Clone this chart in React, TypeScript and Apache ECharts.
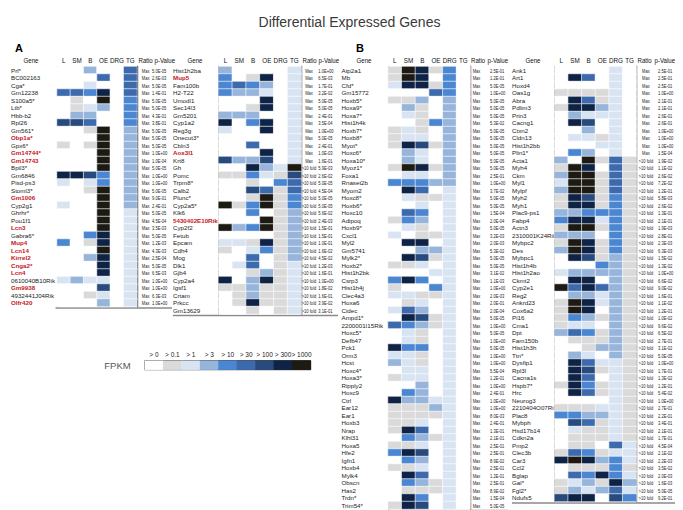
import React, { useEffect, useRef } from "react";
import * as echarts from "echarts";

const FONT = "'Liberation Sans', Arial, sans-serif";

const COLS = ["L", "SM", "B", "OE", "DRG", "TG"];
const PALETTE = ["#ffffff", "#dadada", "#d9e4f3", "#97b4db", "#4b86d2", "#3c6aad", "#294a7c", "#0f2346", "#1d1a13"];
const LEGEND_LABELS = ["> 0", "> 0.1", "> 1", "> 3", "> 10", "> 30", "> 100", "> 300", "> 1000"];

// ---------- Panel A, left table ----------
const A1_GENES = ["Prl*", "BC002163", "Cga*", "Gm12238", "S100a5*", "Ltb*", "Hbb-b2", "Rpl26", "Gm561*", "Obp1a*", "Gpx6*", "Gm14744*", "Gm14743", "Bpil3*", "Gm6846", "Pisd-ps3", "Stoml3*", "Gm1006", "Cyp2g1", "Ghrhr*", "Pou1f1", "Lcn3", "Gabra6*", "Mup4", "Lcn14", "Kirrel2", "Cnga2*", "Lcn4", "0610040B10Rik", "Gm9938", "4932441J04Rik", "Olfr420"];
const A1_LEVELS = ["003005", "000505", "002005", "554705", "010804", "012304", "033004", "665004", "001803", "000803", "101803", "000803", "000803", "000803", "776403", "202403", "001803", "000803", "200803", "000802", "000802", "000802", "004702", "401702", "000802", "003702", "000702", "000702", "232202", "000602", "001202", "000302"];
const A1_RATIO = ["Max", "Max", "Max", "Max", "Max", "Max", "Max", "Max", "Max", "Max", "Max", "Max", "Max", "Max", "Max", "Max", "Max", "Max", "Max", "Max", "Max", "Max", "Max", "Max", "Max", "Max", "Max", "Max", "Max", "Max", "Max", "Max"];
const A1_PVAL = ["5.0E-05", "2.6E-03", "5.0E-05", "1.4E-01", "5.0E-05", "5.0E-05", "4.3E-01", "3.8E-01", "5.0E-05", "5.0E-05", "5.0E-05", "1.0E+00", "1.0E-04", "5.0E-05", "1.0E+00", "1.0E+00", "5.0E-05", "9.0E-01", "2.4E-01", "5.0E-05", "4.5E-04", "3.5E-03", "5.0E-05", "1.2E-03", "4.3E-03", "2.5E-04", "5.0E-05", "6.5E-03", "1.0E+00", "1.0E+00", "6.3E-03", "1.0E+00"];
const A1_RED = ["Obp1a*", "Gm14744*", "Gm14743", "Gm1006", "Lcn3", "Mup4", "Lcn14", "Kirrel2", "Cnga2*", "Lcn4", "Gm9938", "Olfr420"];

// ---------- Panel A, right table ----------
const A2_GENES = ["Hist1h2ba", "Mup5", "Fam100b", "H2-T22", "Umodl1", "Sec14l3", "Gm5201", "Cyp1a2", "Reg3g", "Onecut3*", "Cbln3", "Aox3l1", "Krt8", "Gh", "Pomc", "Trpm8*", "Calb2", "Plunc*", "Cyp2a5*", "Klk6", "5430402E10Rik", "Cyp2f2", "Fetub", "Epcam", "Cdh4", "Mog", "Dlk1", "Gjb4", "Cyp2a4", "Igsf1", "Crtam", "Prkcc", "Gm13629"];
const A2_LEVELS = ["300002", "401702", "454302", "433202", "000702", "001702", "333002", "704702", "200702", "000002", "005002", "000702", "633602", "007328", "114216", "001045", "006515", "001814", "814814", "004013", "000813", "834813", "000013", "221713", "102413", "005013", "025012", "001312", "703712", "113112", "013112", "017112", "001012"];
const A2_RATIO = ["Max", "Max", "Max", "Max", "Max", "Max", "Max", "Max", "Max", "Max", "Max", "Max", "Max", ">10 fold", ">10 fold", ">10 fold", ">10 fold", ">10 fold", ">10 fold", ">10 fold", ">10 fold", ">10 fold", ">10 fold", ">10 fold", ">10 fold", ">10 fold", ">10 fold", ">10 fold", ">10 fold", ">10 fold", ">10 fold", ">10 fold", ">10 fold"];
const A2_PVAL = ["1.0E+00", "6.5E-03", "1.7E-01", "3.2E-02", "5.0E-05", "5.0E-05", "2.4E-01", "3.5E-04", "1.0E+00", "5.0E-05", "2.4E-01", "1.0E-03", "1.6E-01", "5.9E-03", "2.6E-02", "5.0E-05", "4.5E-04", "5.0E-05", "5.0E-05", "5.6E-02", "2.4E-03", "1.5E-01", "1.5E-01", "1.0E-01", "1.6E-02", "4.5E-02", "1.2E-03", "1.6E-01", "1.0E+00", "1.8E-02", "1.6E-01", "3.9E-02", "3.1E-01"];
const A2_RED = ["Mup5", "Aox3l1", "5430402E10Rik"];

// ---------- Panel B, left table ----------
const B1_GENES = ["Atp2a1", "Mb", "Cfd*", "Gm15772", "Hoxb5*", "Hoxa9*", "Hoxa7*", "Hist1h4k", "Hoxb7*", "Hoxb8*", "Myot*", "Hoxc6*", "Hoxa10*", "Myoz1*", "Foxa1", "Rnaset2b", "Myom2", "Hoxc8*", "Hoxb6*", "Hoxc10", "Adipoq", "Hoxb9*", "Cxcl1", "Myl2", "Gm5741", "Mylk2*", "Hoxb2*", "Hist1h2bk", "Csrp3", "Hist1h4j", "Clec4a3", "Hoxa6", "Cidec", "Ampd1*", "2200001I15Rik", "Hoxc5*", "Defb47", "Pck1", "Orm3", "Hcst", "Hoxc4*", "Hoxa3*", "Ripply2", "Hoxc9", "Ctrl", "Ear12", "Ear1", "Hoxb3", "Nrap", "Klhl31", "Hoxa5", "Hfe2", "Igfn1", "Hoxb4", "Mylk4", "Obscn", "Has2", "Trdn*", "Trim54*"];
const B1_LEVELS = ["187140", "187040", "277140", "000540", "113030", "031030", "021030", "001430", "121030", "122030", "176130", "032030", "032030", "187130", "022030", "444330", "075020", "021120", "002020", "054020", "143020", "021020", "201120", "077020", "003320", "076120", "112020", "000220", "474020", "100420", "221120", "012020", "253020", "076120", "543120", "021020", "021020", "744020", "221020", "321020", "022020", "122020", "003020", "043020", "733220", "111320", "111120", "112020", "175020", "043120", "112020", "476020", "043020", "112020", "075020", "043120", "011120", "074020", "176020"];
const B1_RATIO = ["Max", "Max", "Max", "Max", "Max", "Max", "Max", "Max", "Max", "Max", "Max", "Max", "Max", "Max", "Max", "Max", "Max", "Max", "Max", "Max", "Max", "Max", "Max", "Max", "Max", "Max", "Max", "Max", "Max", "Max", "Max", "Max", "Max", "Max", "Max", "Max", "Max", "Max", "Max", "Max", "Max", "Max", "Max", "Max", "Max", "Max", "Max", "Max", "Max", "Max", "Max", "Max", "Max", "Max", "Max", "Max", "Max", "Max", "Max"];
const B1_PVAL = ["2.5E-01", "1.2E-01", "5.0E-05", "1.0E+00", "5.0E-05", "5.0E-05", "5.0E-05", "5.3E-02", "5.0E-05", "5.0E-05", "5.0E-05", "5.0E-05", "5.0E-05", "5.0E-05", "2.5E-01", "1.0E+00", "3.7E-02", "5.0E-05", "5.0E-05", "1.5E-04", "2.0E-04", "5.0E-05", "3.2E-03", "2.0E-03", "5.3E-02", "5.0E-05", "5.0E-05", "3.1E-02", "1.1E-03", "1.0E+00", "2.0E-03", "2.0E-01", "2.0E-04", "5.0E-05", "1.0E+00", "5.0E-05", "1.0E+00", "5.0E-05", "1.0E+00", "1.0E+00", "5.5E-04", "1.2E-01", "1.0E+00", "2.4E-01", "1.0E+00", "1.0E+00", "8.0E-03", "2.4E-01", "1.3E-01", "2.1E-01", "2.5E-01", "2.5E-01", "8.9E-02", "2.5E-01", "1.2E-01", "2.5E-01", "8.9E-02", "1.5E-04", "5.0E-05"];
const B1_RED: string[] = [];

// ---------- Panel B, right table ----------
const B2_GENES = ["Ank1", "Art1", "Hoxd4", "Oas1g", "Abra", "Pdlim3", "Prin3", "Cacng1", "Ctxn2", "Cldn13", "Hist1h2bb", "Plin1*", "Acta1", "Myh4", "Ckm", "Myl1", "Mylpf", "Myh2", "Myh1", "Plac9-ps1", "Fabp4", "Actn3", "2310001K24Rik", "Mybpc2", "Des", "Mybpc1", "Hist1h4b", "Hist1h2ao", "Ckmt2", "Cyp2e1", "Reg2", "Ankrd23", "Cox6a2", "Pi16", "Cma1", "Dpt", "Fam150b", "Hist1h3h", "Ttn*", "Dysfip1", "Rpl3l", "Cacna1s", "Hspb7*", "Hrc", "Neurog3", "2210404O07Rik", "Plac8", "Mybph", "Hsd17b14", "Cdkn2a", "Pmp2", "Clec3b", "Car3", "Ccl2", "Bglap", "Gal*", "Fgl2*", "Ndufs5"];
const B2_LEVELS = ["000020", "075020", "000020", "111120", "075120", "177320", "032220", "076020", "003020", "022120", "000220", "043020", "308151", "187051", "388151", "288151", "388151", "176141", "177141", "334441", "477241", "188141", "333041", "187141", "387141", "076131", "000431", "233331", "077031", "857531", "033231", "187231", "187031", "143131", "122031", "354131", "011131", "001331", "032031", "075221", "076121", "075021", "174121", "075121", "000021", "111221", "443321", "065121", "021121", "011121", "011052", "154122", "787342", "011141", "054742", "123173", "132352", "677064"];
const B2_RATIO = ["Max", "Max", "Max", "Max", "Max", "Max", "Max", "Max", "Max", "Max", "Max", "Max", ">10 fold", ">10 fold", ">10 fold", ">10 fold", ">10 fold", ">10 fold", ">10 fold", ">10 fold", ">10 fold", ">10 fold", ">10 fold", ">10 fold", ">10 fold", ">10 fold", ">10 fold", ">10 fold", ">10 fold", ">10 fold", ">10 fold", ">10 fold", ">10 fold", ">10 fold", ">10 fold", ">10 fold", ">10 fold", ">10 fold", ">10 fold", ">10 fold", ">10 fold", ">10 fold", ">10 fold", ">10 fold", ">10 fold", ">10 fold", ">10 fold", ">10 fold", ">10 fold", ">10 fold", ">10 fold", ">10 fold", ">10 fold", ">10 fold", ">10 fold", ">10 fold", ">10 fold", ">10 fold"];
const B2_PVAL = ["2.5E-01", "2.5E-01", "2.5E-01", "1.0E+00", "2.1E-01", "2.1E-01", "2.6E-01", "2.6E-01", "1.0E+00", "1.0E+00", "1.0E+00", "1.5E-04", "1.9E-02", "1.1E-02", "2.6E-02", "7.2E-02", "1.2E-01", "5.8E-03", "2.6E-02", "1.3E-01", "2.1E-01", "1.9E-03", "2.8E-01", "2.3E-03", "6.3E-03", "1.5E-02", "1.3E-02", "1.0E+00", "6.6E-02", "9.0E-02", "1.6E-01", "1.1E-02", "1.2E-01", "1.0E-02", "9.6E-02", "6.5E-02", "2.7E-01", "3.1E-02", "5.0E-05", "1.0E+00", "1.7E-01", "1.3E-02", "1.2E-01", "5.4E-02", "1.0E+00", "2.7E-01", "2.2E-01", "3.4E-01", "2.1E-01", "1.7E-01", "4.5E-04", "2.1E-02", "2.2E-03", "3.5E-02", "2.0E-03", "1.6E-03", "5.0E-05", "9.2E-01"];
const B2_RED: string[] = [];

// ---------- layout (positions only) ----------
const ROW_H = 7.5;
const TOP = 58.5;
const HEAD_Y = 52.5;
const HEAD_FONT = 6.8;
const COL_FONT = 6.3;
const SMALL_FONT = 6;
const SMALL_SX = 0.68;

const TABLES = [
  { genes: A1_GENES, levels: A1_LEVELS, ratio: A1_RATIO, pval: A1_PVAL, red: A1_RED, left: 48, cellW: 13.5, geneX: 2, ratioC: 8.5, pOff: 15, lineFrom: 47.5, lineTo: 164, geneHead: 23, ratioHead: 130.5, pHead: 146.5 },
  { genes: A2_GENES, levels: A2_LEVELS, ratio: A2_RATIO, pval: A2_PVAL, red: A2_RED, left: 210.5, cellW: 13.8, geneX: 165, ratioC: 7.7, pOff: 17, lineFrom: 165, lineTo: 330, geneHead: 187, ratioHead: 294.5, pHead: 310.5 },
  { genes: B1_GENES, levels: B1_LEVELS, ratio: B1_RATIO, pval: B1_PVAL, red: B1_RED, left: 380, cellW: 13.7, geneX: 333.5, ratioC: 6.3, pOff: 19.8, lineFrom: 380, lineTo: 500, geneHead: 356, ratioHead: 463, pHead: 479.5 },
  { genes: B2_GENES, levels: B2_LEVELS, ratio: B2_RATIO, pval: B2_PVAL, red: B2_RED, left: 546.5, cellW: 13.65, geneX: 504, ratioC: 9.5, pOff: 21.6, lineFrom: 504, lineTo: 668, geneHead: 525, ratioHead: 629.5, pHead: 646.5 },
];

function headText(text: string, x: number, align: string) {
  return { type: "text", x, y: HEAD_Y, scaleX: 0.9, style: { text, align, verticalAlign: "middle", font: `${HEAD_FONT}px ${FONT}`, fill: "#111" } };
}

function buildOption() {
  const grid: any[] = [];
  const xAxis: any[] = [];
  const yAxis: any[] = [];
  const series: any[] = [];
  const graphic: any[] = [];
  const heatIdx: number[] = [];

  TABLES.forEach((t, i) => {
    const n = t.genes.length;
    const height = n * ROW_H;
    grid.push({ left: t.left, top: TOP, width: t.cellW * 6, height, containLabel: false });
    xAxis.push({
      gridIndex: i, type: "category", data: COLS, position: "top",
      axisLine: { show: false }, axisTick: { show: false }, splitLine: { show: false },
      axisLabel: { interval: 0, fontSize: COL_FONT, color: "#111", margin: 3, fontFamily: FONT },
    });
    yAxis.push({
      gridIndex: i, type: "category", data: t.genes, inverse: true,
      axisLine: { show: true, lineStyle: { color: "#000", width: 1 } },
      axisTick: { show: false }, splitLine: { show: false },
      axisLabel: {
        interval: 0, align: "left", margin: t.left - t.geneX, fontSize: 6.2, fontFamily: FONT,
        formatter: (v: string) => (t.red.includes(v) ? `{red|${v}}` : `{n|${v}}`),
        rich: {
          n: { fontSize: 6.2, color: "#222", fontFamily: FONT },
          red: { fontSize: 6.2, color: "#c4161c", fontWeight: "bold", fontFamily: FONT },
        },
      },
    });
    yAxis.push({
      gridIndex: i, type: "category", data: t.genes, inverse: true, position: "right",
      axisLine: { show: true, lineStyle: { color: "#000", width: 1.3 } },
      axisTick: { show: false }, splitLine: { show: false }, axisLabel: { show: false },
    });
    const data: any[] = [];
    t.levels.forEach((row, r) => {
      row.split("").forEach((ch, c) => data.push([c, r, Number(ch)]));
    });
    heatIdx.push(series.length);
    series.push({
      type: "heatmap", xAxisIndex: i, yAxisIndex: i * 2, data,
      itemStyle: { borderColor: "#ffffff", borderWidth: 0.6 },
      emphasis: { disabled: true },
    });
    // ratio and p-value columns, placed on each row through the table's own axes
    series.push({
      type: "custom", xAxisIndex: i, yAxisIndex: i * 2, silent: true,
      data: t.genes.map((_, r) => [5, r]),
      encode: { x: 0, y: 1 },
      renderItem: (params: any, api: any) => {
        const r = params.dataIndex;
        const pt = api.coord([5, r]);
        const xr = pt[0] + t.cellW / 2;
        return {
          type: "group",
          children: [
            { type: "text", x: xr + t.ratioC, y: pt[1], scaleX: SMALL_SX, style: { text: t.ratio[r], align: "center", verticalAlign: "middle", font: `${SMALL_FONT}px ${FONT}`, fill: "#222" } },
            { type: "text", x: xr + t.pOff, y: pt[1], scaleX: SMALL_SX, style: { text: t.pval[r], align: "left", verticalAlign: "middle", font: `${SMALL_FONT}px ${FONT}`, fill: "#222" } },
          ],
        };
      },
    });
    const bottom = TOP + height + 1.5;
    graphic.push({ type: "line", shape: { x1: t.lineFrom, y1: bottom, x2: t.lineTo, y2: bottom }, style: { stroke: "#8a8a8a", lineWidth: 1.6 }, silent: true });
    graphic.push(headText("Gene", t.geneHead, "center"));
    graphic.push(headText("Ratio", t.ratioHead, "left"));
    graphic.push(headText("p-Value", t.pHead, "left"));
  });

  // legend as a one-row heatmap
  const li = TABLES.length;
  grid.push({ left: 136.7, top: 352.7, width: 166, height: 9, show: true, borderColor: "#222", borderWidth: 1, backgroundColor: "transparent" });
  xAxis.push({
    gridIndex: li, type: "category", data: LEGEND_LABELS, position: "top",
    axisLine: { show: false }, axisTick: { show: false },
    axisLabel: { interval: 0, fontSize: 6.5, color: "#222", margin: 3, fontFamily: FONT },
  });
  yAxis.push({
    gridIndex: li, type: "category", data: ["FPKM"],
    axisLine: { show: false }, axisTick: { show: false },
    axisLabel: { fontSize: 9.5, color: "#555", margin: 14, fontFamily: FONT },
  });
  heatIdx.push(series.length);
  series.push({
    type: "heatmap", xAxisIndex: li, yAxisIndex: yAxis.length - 1,
    data: LEGEND_LABELS.map((_, k) => [k, 0, k]),
    itemStyle: { borderWidth: 0 }, emphasis: { disabled: true },
  });

  graphic.push({ type: "text", x: 7, y: 40, style: { text: "A", align: "left", verticalAlign: "middle", font: `bold 11px ${FONT}`, fill: "#000" } });
  graphic.push({ type: "text", x: 348, y: 40, style: { text: "B", align: "left", verticalAlign: "middle", font: `bold 11px ${FONT}`, fill: "#000" } });

  return {
    animation: false,
    textStyle: { fontFamily: FONT },
    title: { text: "Differential Expressed Genes", left: "center", top: 2, textStyle: { fontSize: 14, fontWeight: "normal", color: "#3a3a3a", fontFamily: FONT } },
    grid, xAxis, yAxis, series, graphic,
    visualMap: {
      type: "piecewise", show: false, dimension: 2,
      seriesIndex: heatIdx,
      pieces: PALETTE.map((c, k) => ({ value: k, color: c })),
    },
    tooltip: { show: false },
  };
}

export default function App() {
  const ref = useRef<HTMLDivElement>(null);
  useEffect(() => {
    if (!ref.current) return;
    const chart = echarts.init(ref.current, undefined, { renderer: "svg" });
    chart.setOption(buildOption() as any);
    return () => chart.dispose();
  }, []);
  return <div ref={ref} style={{ position: "fixed", left: 0, top: 0, width: 683, height: 510, background: "#fff" }} />;
}
